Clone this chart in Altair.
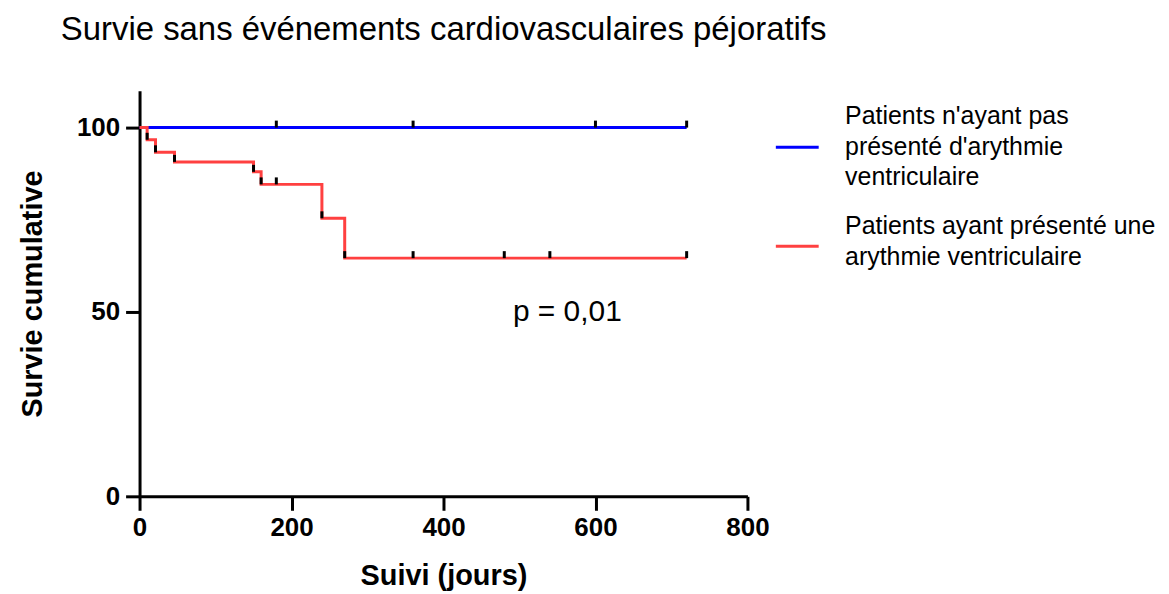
import altair as alt
import pandas as pd

# ---- data ----
group_names = [
    "Patients n'ayant pas|présenté d'arythmie|ventriculaire",
    "Patients ayant présenté une|arythmie ventriculaire",
]
group_colors = ["#0000FF", "#FF4040"]
# legend symbols: horizontal strokes, lowered to sit beside the middle of each label
group_symbols = ["M-1,1.47H1", "M-1,0.93H1"]

blue_times = [0, 720]
blue_surv = [100, 100]
red_times = [0, 10, 21, 46, 150, 160, 240, 270, 720]
red_surv = [100, 96.7, 93.3, 90.7, 88.0, 84.6, 75.4, 64.6, 64.6]

blue_cens_times = [180, 360, 600, 720]
blue_cens_surv = [100, 100, 100, 100]
red_cens_times = [10, 21, 46, 150, 160, 180, 240, 270, 360, 480, 540, 720]
red_cens_surv = [96.7, 93.3, 90.7, 88.0, 84.6, 84.6, 75.4, 64.6, 64.6, 64.6, 64.6, 64.6]

x_ticks = [0, 200, 400, 600, 800]
y_ticks = [0, 50, 100]

annot_text = ["p = 0,01"]
annot_x = [563]
annot_y = [50]

FONT = "Liberation Sans"

curves = pd.DataFrame(
    {
        "t": blue_times + red_times,
        "s": blue_surv + red_surv,
        "g": [group_names[0]] * len(blue_times) + [group_names[1]] * len(red_times),
        "o": list(range(len(blue_times))) + list(range(len(red_times))),
    }
)
cens = pd.DataFrame(
    {
        "t": blue_cens_times + red_cens_times,
        "s": blue_cens_surv + red_cens_surv,
    }
)
annot = pd.DataFrame({"x": annot_x, "y": annot_y, "label": annot_text})

xscale = alt.Scale(domain=[0, 800], nice=False)
yscale = alt.Scale(domain=[0, 110], nice=False)

xenc = alt.X(
    "t:Q",
    scale=xscale,
    axis=alt.Axis(values=x_ticks, title="Suivi (jours)", titlePadding=21, labelPadding=4,
                  labelFlush=False),
)
yenc = alt.Y(
    "s:Q",
    scale=yscale,
    axis=alt.Axis(values=y_ticks, title="Survie cumulative", titlePadding=29, labelPadding=6,
                  labelFlush=False),
)

legend = alt.Legend(
    title=None,
    orient="none",
    legendX=637,
    legendY=2,
    symbolSize=1849,
    symbolStrokeWidth=3,
    symbolOpacity=1,
    labelExpr="split(datum.label, '|')",
    labelFont=FONT,
    labelFontSize=25,
    labelLimit=500,
    labelOffset=25,
    rowPadding=13,
    labelColor="black",
)

color_scale = alt.Scale(domain=group_names, range=group_colors)
shape_scale = alt.Scale(domain=group_names, range=group_symbols)

lines = (
    alt.Chart(curves)
    .mark_line(interpolate="step-after", strokeWidth=3)
    .encode(
        x=xenc,
        y=yenc,
        order="o:Q",
        color=alt.Color("g:N", scale=color_scale, legend=legend),
    )
)

# legend carrier: zero-size points, only feed the legend symbol shapes
legend_layer = (
    alt.Chart(curves)
    .mark_point(filled=False, strokeWidth=3, opacity=1, size=0)
    .encode(
        x="t:Q",
        y="s:Q",
        color=alt.Color("g:N", scale=color_scale, legend=legend),
        shape=alt.Shape("g:N", scale=shape_scale, legend=legend),
    )
)

ticks = (
    alt.Chart(cens)
    .mark_tick(orient="vertical", color="black", thickness=3, size=7, yOffset=-3.5, opacity=1)
    .encode(x="t:Q", y="s:Q")
)

text = (
    alt.Chart(annot)
    .mark_text(font=FONT, fontSize=30, color="black")
    .encode(x="x:Q", y="y:Q", text="label:N")
)

chart = (
    alt.layer(lines, ticks, text, legend_layer)
    .properties(
        width=610,
        height=407,
        padding={"left": 10, "top": 5, "right": 5, "bottom": 0},
        title=alt.TitleParams(
            "Survie sans événements cardiovasculaires péjoratifs",
            anchor="start",
            frame="group",
            dx=-79,
            offset=44,
            font=FONT,
            fontSize=33,
            fontWeight="normal",
            color="black",
        ),
    )
    .configure(style={"guide-label": {"lineHeight": 31}})
    .configure_view(stroke=None)
    .configure_axis(
        grid=False,
        domainColor="black",
        domainWidth=3,
        tickColor="black",
        tickWidth=3,
        tickSize=14,
        labelFont=FONT,
        labelFontSize=26,
        labelFontWeight="bold",
        labelColor="black",
        titleFont=FONT,
        titleFontSize=29,
        titleFontWeight="bold",
        titleColor="black",
    )
)

chart.save("out.html", embed_options={"renderer": "svg", "actions": False})
